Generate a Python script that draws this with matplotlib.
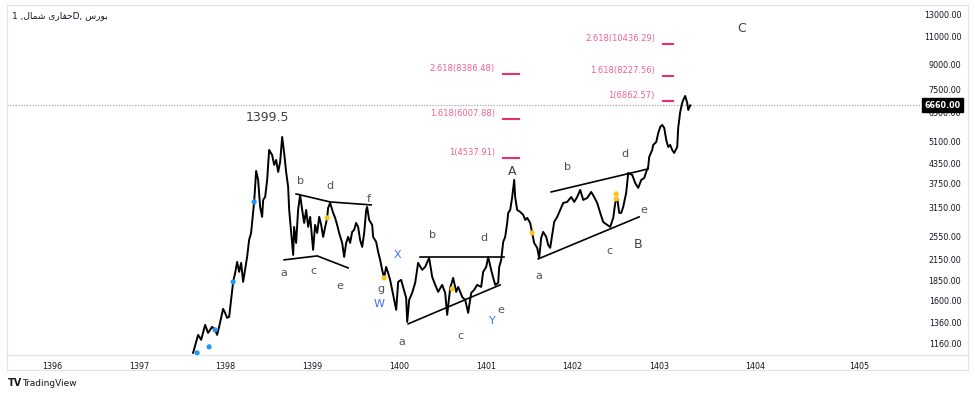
import numpy as np
import matplotlib
matplotlib.use("Agg")
import matplotlib.pyplot as plt
from matplotlib.lines import Line2D

plt.rcParams['font.family'] = ['DejaVu Sans']

# --- daily close (fractional solar year, price) ---
dates = [1397.626, 1397.684, 1397.719, 1397.765, 1397.799, 1397.845, 1397.880, 1397.903, 1397.926, 1397.972,
         1397.995, 1398.018, 1398.042, 1398.088, 1398.111, 1398.134, 1398.157, 1398.180, 1398.203, 1398.249,
         1398.272, 1398.295, 1398.330, 1398.353, 1398.376, 1398.399, 1398.422, 1398.434, 1398.457, 1398.480,
         1398.503, 1398.537, 1398.561, 1398.584, 1398.607, 1398.630, 1398.653, 1398.676, 1398.699, 1398.722,
         1398.734, 1398.757, 1398.780, 1398.791, 1398.814, 1398.837, 1398.860, 1398.884, 1398.907, 1398.930,
         1398.953, 1398.976, 1399.010, 1399.033, 1399.057, 1399.080, 1399.103, 1399.126, 1399.149, 1399.172,
         1399.183, 1399.206, 1399.241, 1399.264, 1399.287, 1399.310, 1399.345, 1399.368, 1399.391, 1399.414,
         1399.437, 1399.460, 1399.483, 1399.506, 1399.529, 1399.552, 1399.576, 1399.599, 1399.622, 1399.633,
         1399.656, 1399.691, 1399.702, 1399.737, 1399.760, 1399.783, 1399.806, 1399.829, 1399.852, 1399.875,
         1399.898, 1399.922, 1399.945, 1399.968, 1399.991, 1400.025, 1400.048, 1400.083, 1400.095, 1400.118,
         1400.152, 1400.187, 1400.221, 1400.268, 1400.302, 1400.348, 1400.383, 1400.418, 1400.452, 1400.498,
         1400.533, 1400.556, 1400.591, 1400.625, 1400.660, 1400.683, 1400.729, 1400.764, 1400.798, 1400.833,
         1400.867, 1400.902, 1400.948, 1400.971, 1401.006, 1401.029, 1401.063, 1401.087, 1401.110, 1401.144,
         1401.156, 1401.179, 1401.202, 1401.225, 1401.248, 1401.260, 1401.283, 1401.306, 1401.329, 1401.340,
         1401.363, 1401.398, 1401.433, 1401.456, 1401.479, 1401.513, 1401.536, 1401.559, 1401.594, 1401.617,
         1401.640, 1401.663, 1401.698, 1401.721, 1401.744, 1401.767, 1401.790, 1401.825, 1401.859, 1401.894,
         1401.940, 1401.986, 1402.021, 1402.055, 1402.090, 1402.125, 1402.171, 1402.217, 1402.251, 1402.286,
         1402.321, 1402.355, 1402.401, 1402.436, 1402.471, 1402.494, 1402.517, 1402.540, 1402.563, 1402.586,
         1402.620, 1402.644, 1402.690, 1402.724, 1402.759, 1402.794, 1402.828, 1402.851, 1402.874, 1402.886,
         1402.920, 1402.932, 1402.967, 1402.990, 1403.013, 1403.036, 1403.059, 1403.082, 1403.105, 1403.128,
         1403.151, 1403.174, 1403.209, 1403.220, 1403.243, 1403.266, 1403.278, 1403.301, 1403.324, 1403.336,
         1403.359]
prices = [1087, 1240, 1196, 1334, 1258, 1315, 1286, 1240, 1315, 1500,
          1457, 1405, 1415, 1828, 1952, 2116, 1967, 2101, 1828, 2195,
          2486, 2617, 3283, 4120, 3857, 3165, 2943, 3332, 3405, 3857,
          4804, 4632, 4305, 4465, 4089, 4400, 5283, 4700, 4089, 3664,
          3097, 2617, 2227, 2734, 2432, 3097, 3455, 3097, 2815, 3097,
          2734, 2943, 2311, 2775, 2617, 2943, 2775, 2541, 2734, 2921,
          3142, 3259, 3030, 2921, 2775, 2617, 2432, 2195, 2432, 2541,
          2432, 2636, 2675, 2815, 2734, 2486, 2362, 2617, 3097, 3165,
          2878, 2775, 2541, 2450, 2277, 2148, 1996, 1882, 2040, 1952,
          1855, 1724, 1602, 1489, 1828, 1855, 1762, 1625, 1364, 1602,
          1686, 1815, 2101, 1996, 2040, 2179, 1896, 1788, 1699, 1788,
          1686, 1436, 1750, 1882, 1699, 1762, 1637, 1602, 1457, 1686,
          1724, 1788, 1762, 1967, 2040, 2195, 1996, 1882, 1788, 1815,
          2040, 2148, 2450, 2541, 2815, 3030, 3097, 3405, 3857, 3405,
          3097, 3052, 2986, 2878, 2921, 2815, 2617, 2432, 2345, 2179,
          2523, 2636, 2541, 2397, 2345, 2579, 2836, 2943, 3097, 3259,
          3283, 3405, 3283, 3405, 3584, 3332, 3380, 3532, 3405, 3259,
          3030, 2836, 2775, 2734, 2921, 3259, 3380, 3030, 3030, 3165,
          3507, 4059, 4000, 3773, 3637, 3857, 3913, 4089, 4243, 4565,
          4804, 4984, 5094, 5440, 5686, 5770, 5645, 5169, 4912, 4984,
          4804, 4700, 4912, 5645, 6345, 6776, 6927, 7133, 6776, 6438,
          6660]
last_price = 6660

# y axis ticks (log scale)
y_ticks = [1160, 1360, 1600, 1850, 2150, 2550, 3150, 3750, 4350, 5100, 6300, 7500, 9000, 11000, 13000]
year_labels = ['1396', '1397', '1398', '1399', '1400', '1401', '1402', '1403', '1404', '1405']
year_pos = [1396, 1397, 1398, 1399, 1400, 1401, 1402, 1403, 1404.11, 1405.31]

# wave markers on the curve
blue_dots_x = [1397.672, 1397.811, 1397.880, 1398.088, 1398.330]
blue_dots_y = [1087, 1136, 1286, 1828, 3283]
yellow_dots_x = [1399.172, 1399.829, 1400.613, 1401.536, 1402.505, 1402.505]
yellow_dots_y = [2921, 1882, 1737, 2617, 3480, 3356]

# triangle / channel lines
trend_lines = [
    ([1398.814, 1399.206, 1399.679], [3481, 3283, 3212]),
    ([1398.676, 1399.057, 1399.414], [2148, 2211, 2025]),
    ([1400.244, 1401.213], [2195, 2195]),
    ([1400.106, 1401.167], [1344, 1788]),
    ([1401.755, 1402.874], [3532, 4181]),
    ([1401.606, 1402.770], [2163, 2943]),
]

# elliott wave labels: text, x, y, colour
GRAY = '#505050'
BLUE = '#3d6ef5'
wave_labels = [
    ('b', 1398.860, 3829, GRAY), ('d', 1399.206, 3690, GRAY), ('f', 1399.656, 3356, GRAY),
    ('a', 1398.676, 1952, GRAY), ('c', 1399.010, 1981, GRAY), ('e', 1399.322, 1775, GRAY),
    ('g', 1399.795, 1737, GRAY), ('W', 1399.772, 1553, BLUE), ('X', 1399.979, 2227, BLUE),
    ('a', 1400.037, 1179, GRAY), ('b', 1400.383, 2579, GRAY), ('d', 1400.983, 2523, GRAY),
    ('c', 1400.706, 1231, GRAY), ('e', 1401.179, 1489, GRAY), ('Y', 1401.075, 1374, BLUE),
    ('a', 1401.617, 1910, GRAY), ('b', 1401.940, 4243, GRAY), ('c', 1402.424, 2294, GRAY),
    ('d', 1402.609, 4666, GRAY), ('e', 1402.828, 3097, GRAY),
]
big_labels = [('1399.5', 1398.480, 6100), ('A', 1401.306, 4089), ('B', 1402.759, 2397), ('C', 1403.947, 11733)]

# fibonacci targets
fib_left_ratio = ['1', '1.618', '2.618']
fib_left_price = [4537.91, 6007.88, 8386.48]
fib_left_span = (1401.202, 1401.386)
fib_right_ratio = ['1', '1.618', '2.618']
fib_right_price = [6862.57, 8227.56, 10436.29]
fib_right_span = (1403.048, 1403.163)

# title (arabic presentation forms, visual order)
title = ("1 ," + "\uFEDD\uFE8E\uFEE4\uFEB7" + " " + "\uFEEF\uFEAD\uFE8E\uFED4\uFEA3"
         + "D, " + "\uFEB1\uFEAD\uFEEE\uFE91")

fig = plt.figure(figsize=(9.75, 3.96), dpi=100)
ax = fig.add_axes([7 / 975, 1 - 355 / 396, (921 - 7) / 975, (355 - 5) / 396])

ax.plot(dates, prices, color='black', lw=1.4, zorder=3)
for xs, ys in trend_lines:
    ax.plot(xs, ys, color='black', lw=1.2, zorder=3)
ax.scatter(blue_dots_x, blue_dots_y, s=14, color='#2196f3', zorder=4, edgecolors='none')
ax.scatter(yellow_dots_x, yellow_dots_y, s=14, color='#ffc21a', zorder=4, edgecolors='none')

for txt, x, y, c in wave_labels:
    ax.text(x, y, txt, color=c, fontsize=8, ha='center', va='center')
for txt, x, y in big_labels:
    ax.text(x, y, txt, color='#404040', fontsize=9, ha='center', va='center')

PINK_TXT = '#f0628e'
PINK = '#ea2f6a'
for ratios, levels, span in [(fib_left_ratio, fib_left_price, fib_left_span),
                             (fib_right_ratio, fib_right_price, fib_right_span)]:
    for r, p in zip(ratios, levels):
        ax.plot(span, [p, p], color=PINK, lw=1.5, zorder=3)
        ax.annotate(f"{r}({p:.2f})", (span[0], p), xytext=(-6, 4), textcoords='offset points',
                    ha='right', va='center', fontsize=6, color=PINK_TXT)

ax.axhline(last_price, color='#9598a1', lw=0.8, ls=(0, (1, 1.5)), zorder=2)

ax.set_yscale('log')
ax.set_ylim(1070, 13890)
ax.set_xlim(1395.48, 1406.02)
ax.yaxis.tick_right()
ax.set_yticks(y_ticks)
ax.set_yticklabels([f"{v:.2f}" for v in y_ticks])
ax.yaxis.set_minor_locator(matplotlib.ticker.NullLocator())
ax.set_xticks(year_pos)
ax.set_xticklabels(year_labels)
ax.tick_params(axis='both', length=0, labelsize=5.8, colors='#131722')
ax.tick_params(axis='y', pad=29)
ax.tick_params(axis='x', pad=5)
for lbl in ax.get_yticklabels():
    lbl.set_ha('right')
for s in ax.spines.values():
    s.set_color('#e0e3eb')
    s.set_linewidth(0.8)
ax.spines['right'].set_visible(False)

# last price tag on the price axis
ax.annotate(f"{last_price:.2f}", (1.0, last_price), xycoords=('axes fraction', 'data'),
            xytext=(2.5, 0), textcoords='offset points', ha='left', va='center',
            fontsize=5.8, color='white', fontweight='bold',
            bbox=dict(boxstyle='square,pad=0.3', fc='black', ec='black'), zorder=10,
            annotation_clip=False)

# outer frame of the panel
frame = dict(color='#e0e3eb', lw=0.8, transform=fig.transFigure)
fig.add_artist(Line2D([921 / 975, 968 / 975], [1 - 5 / 396] * 2, **frame))
fig.add_artist(Line2D([921 / 975, 968 / 975], [1 - 355 / 396] * 2, **frame))
fig.add_artist(Line2D([968 / 975] * 2, [1 - 5 / 396, 1 - 370 / 396], **frame))
fig.add_artist(Line2D([7 / 975] * 2, [1 - 355 / 396, 1 - 370 / 396], **frame))
fig.add_artist(Line2D([7 / 975, 968 / 975], [1 - 370 / 396] * 2, **frame))

fig.text(12 / 975, 1 - 16 / 396, title, fontsize=6.5, color='#131722', ha='left', va='center')
fig.text(8 / 975, 1 - 383 / 396, "TV", fontsize=7, fontweight='bold', color='#131722', va='center')
fig.text(22 / 975, 1 - 383 / 396, "TradingView", fontsize=6.5, color='#131722', va='center')

fig.savefig('out.png', dpi=100, facecolor='white')
